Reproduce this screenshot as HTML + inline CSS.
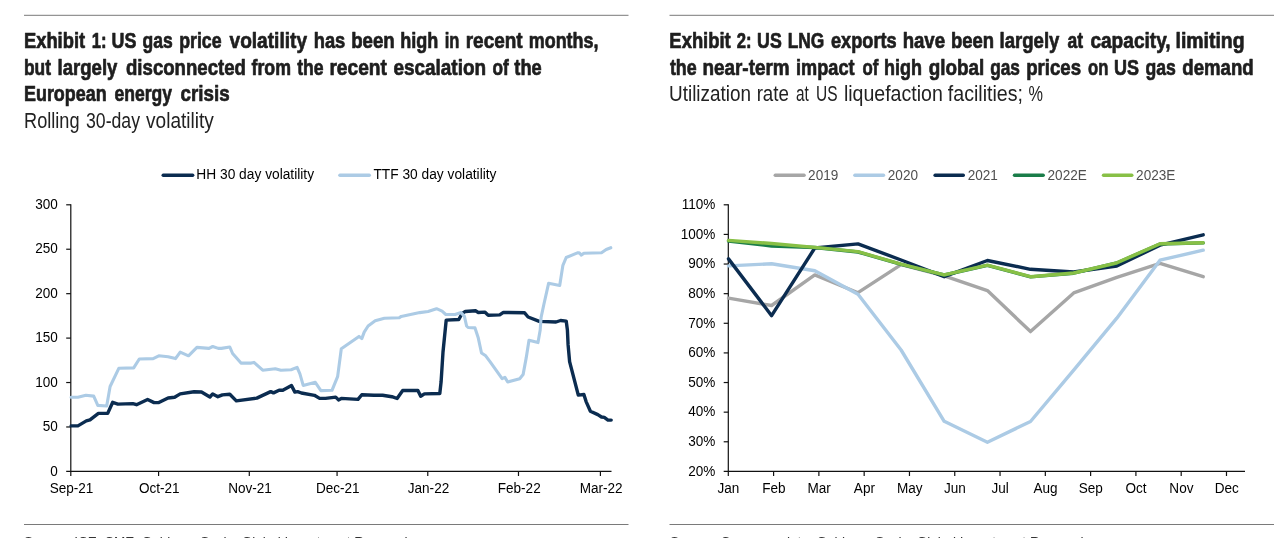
<!DOCTYPE html>
<html lang="en"><head><meta charset="utf-8"><title>Exhibits</title>
<style>
html,body{margin:0;padding:0;background:#fff;}
body{width:1280px;height:538px;overflow:hidden;}
svg{display:block;font-family:"Liberation Sans",sans-serif;}
.t{font-weight:bold;font-size:22px;fill:#1e1e1e;stroke:#1e1e1e;stroke-width:0.7px;stroke-linejoin:round;}
.s{font-size:21.5px;fill:#222;}
.a{font-size:14px;fill:#000;}
.lg{font-size:14px;fill:#000;}
.lg2{font-size:14px;fill:#505050;}
.src{font-size:13px;fill:#333;}
.ln{fill:none;stroke-width:3.4;stroke-linejoin:round;stroke-linecap:round;}
.ax{stroke:#111;stroke-width:1.2;fill:none;}
</style></head><body>
<svg width="1280" height="538" viewBox="0 0 1280 538">

<rect x="24" y="14.8" width="604.5" height="1" fill="#7a7a7a"/>
<rect x="669.5" y="14.8" width="604.5" height="1" fill="#7a7a7a"/>
<rect x="24" y="524" width="604.5" height="1" fill="#7a7a7a"/>
<rect x="669.5" y="524" width="604.5" height="1" fill="#7a7a7a"/>
<text class="t" y="47.5"><tspan x="23.97" textLength="61.17" lengthAdjust="spacingAndGlyphs">Exhibit</tspan> <tspan x="91.64" textLength="14.87" lengthAdjust="spacingAndGlyphs">1:</tspan> <tspan x="111.59" textLength="24.76" lengthAdjust="spacingAndGlyphs">US</tspan> <tspan x="142.60" textLength="30.19" lengthAdjust="spacingAndGlyphs">gas</tspan> <tspan x="179.19" textLength="42.40" lengthAdjust="spacingAndGlyphs">price</tspan> <tspan x="229.50" textLength="77.54" lengthAdjust="spacingAndGlyphs">volatility</tspan> <tspan x="313.77" textLength="31.53" lengthAdjust="spacingAndGlyphs">has</tspan> <tspan x="351.15" textLength="43.62" lengthAdjust="spacingAndGlyphs">been</tspan> <tspan x="400.28" textLength="38.08" lengthAdjust="spacingAndGlyphs">high</tspan> <tspan x="444.75" textLength="14.68" lengthAdjust="spacingAndGlyphs">in</tspan> <tspan x="465.74" textLength="56.88" lengthAdjust="spacingAndGlyphs">recent</tspan> <tspan x="528.79" textLength="69.72" lengthAdjust="spacingAndGlyphs">months,</tspan></text>
<text class="t" y="74.5"><tspan x="24.01" textLength="26.96" lengthAdjust="spacingAndGlyphs">but</tspan> <tspan x="57.56" textLength="59.90" lengthAdjust="spacingAndGlyphs">largely</tspan> <tspan x="126.00" textLength="119.92" lengthAdjust="spacingAndGlyphs">disconnected</tspan> <tspan x="251.50" textLength="39.45" lengthAdjust="spacingAndGlyphs">from</tspan> <tspan x="297.20" textLength="26.39" lengthAdjust="spacingAndGlyphs">the</tspan> <tspan x="329.43" textLength="57.48" lengthAdjust="spacingAndGlyphs">recent</tspan> <tspan x="393.40" textLength="92.68" lengthAdjust="spacingAndGlyphs">escalation</tspan> <tspan x="492.60" textLength="16.27" lengthAdjust="spacingAndGlyphs">of</tspan> <tspan x="514.30" textLength="27.40" lengthAdjust="spacingAndGlyphs">the</tspan></text>
<text class="t" y="101.4"><tspan x="23.99" textLength="82.67" lengthAdjust="spacingAndGlyphs">European</tspan> <tspan x="114.60" textLength="57.49" lengthAdjust="spacingAndGlyphs">energy</tspan> <tspan x="180.60" textLength="49.00" lengthAdjust="spacingAndGlyphs">crisis</tspan></text>
<text class="s" y="127.8"><tspan x="24.06" textLength="55.45" lengthAdjust="spacingAndGlyphs">Rolling</tspan> <tspan x="86.00" textLength="53.99" lengthAdjust="spacingAndGlyphs">30-day</tspan> <tspan x="146.10" textLength="67.78" lengthAdjust="spacingAndGlyphs">volatility</tspan></text>
<text class="t" y="47.5"><tspan x="669.36" textLength="61.37" lengthAdjust="spacingAndGlyphs">Exhibit</tspan> <tspan x="736.80" textLength="14.80" lengthAdjust="spacingAndGlyphs">2:</tspan> <tspan x="757.09" textLength="24.65" lengthAdjust="spacingAndGlyphs">US</tspan> <tspan x="787.71" textLength="36.67" lengthAdjust="spacingAndGlyphs">LNG</tspan> <tspan x="831.00" textLength="65.69" lengthAdjust="spacingAndGlyphs">exports</tspan> <tspan x="902.65" textLength="42.45" lengthAdjust="spacingAndGlyphs">have</tspan> <tspan x="950.96" textLength="43.11" lengthAdjust="spacingAndGlyphs">been</tspan> <tspan x="999.56" textLength="59.90" lengthAdjust="spacingAndGlyphs">largely</tspan> <tspan x="1067.60" textLength="15.56" lengthAdjust="spacingAndGlyphs">at</tspan> <tspan x="1090.40" textLength="80.26" lengthAdjust="spacingAndGlyphs">capacity,</tspan> <tspan x="1175.52" textLength="69.05" lengthAdjust="spacingAndGlyphs">limiting</tspan></text>
<text class="t" y="74.5"><tspan x="669.90" textLength="26.79" lengthAdjust="spacingAndGlyphs">the</tspan> <tspan x="702.44" textLength="87.14" lengthAdjust="spacingAndGlyphs">near-term</tspan> <tspan x="796.08" textLength="58.47" lengthAdjust="spacingAndGlyphs">impact</tspan> <tspan x="862.60" textLength="15.88" lengthAdjust="spacingAndGlyphs">of</tspan> <tspan x="883.98" textLength="37.98" lengthAdjust="spacingAndGlyphs">high</tspan> <tspan x="928.70" textLength="55.55" lengthAdjust="spacingAndGlyphs">global</tspan> <tspan x="990.20" textLength="29.78" lengthAdjust="spacingAndGlyphs">gas</tspan> <tspan x="1026.15" textLength="54.85" lengthAdjust="spacingAndGlyphs">prices</tspan> <tspan x="1088.00" textLength="20.33" lengthAdjust="spacingAndGlyphs">on</tspan> <tspan x="1114.08" textLength="24.97" lengthAdjust="spacingAndGlyphs">US</tspan> <tspan x="1145.40" textLength="30.39" lengthAdjust="spacingAndGlyphs">gas</tspan> <tspan x="1182.30" textLength="71.32" lengthAdjust="spacingAndGlyphs">demand</tspan></text>
<text class="s" y="100.7"><tspan x="669.02" textLength="82.02" lengthAdjust="spacingAndGlyphs">Utilization</tspan> <tspan x="756.63" textLength="32.31" lengthAdjust="spacingAndGlyphs">rate</tspan> <tspan x="796.00" textLength="12.78" lengthAdjust="spacingAndGlyphs">at</tspan> <tspan x="815.98" textLength="21.57" lengthAdjust="spacingAndGlyphs">US</tspan> <tspan x="843.89" textLength="98.88" lengthAdjust="spacingAndGlyphs">liquefaction</tspan> <tspan x="947.80" textLength="75.19" lengthAdjust="spacingAndGlyphs">facilities;</tspan> <tspan x="1028.60" textLength="14.49" lengthAdjust="spacingAndGlyphs">%</tspan></text>
<text class="src" x="24" y="545.6" textLength="388" lengthAdjust="spacingAndGlyphs">Source: ICE, CME, Goldman Sachs Global Investment Research</text>
<text class="src" x="670" y="545.6" textLength="418" lengthAdjust="spacingAndGlyphs">Source: Company data, Goldman Sachs Global Investment Research</text>
<line class="ln" x1="163.2" y1="175.2" x2="192.7" y2="175.2" stroke="#0b2c50"/>
<text class="lg" x="196.3" y="179.4" textLength="117.77" lengthAdjust="spacingAndGlyphs">HH 30 day volatility</text>
<line class="ln" x1="339.9" y1="175.2" x2="369.3" y2="175.2" stroke="#accbe5"/>
<text class="lg" x="373.4" y="179.4" textLength="123.11" lengthAdjust="spacingAndGlyphs">TTF 30 day volatility</text>
<path class="ax" d="M70.8 204.20000000000002V476.0M66.2 471.4H611.5"/>
<text class="a" x="57.8" y="475.6" textLength="7.54" lengthAdjust="spacingAndGlyphs" text-anchor="end">0</text>
<path class="ax" d="M66.2 426.97H70.8"/>
<text class="a" x="57.8" y="431.2" textLength="15.07" lengthAdjust="spacingAndGlyphs" text-anchor="end">50</text>
<path class="ax" d="M66.2 382.53H70.8"/>
<text class="a" x="57.8" y="386.7" textLength="22.61" lengthAdjust="spacingAndGlyphs" text-anchor="end">100</text>
<path class="ax" d="M66.2 338.10H70.8"/>
<text class="a" x="57.8" y="342.3" textLength="22.61" lengthAdjust="spacingAndGlyphs" text-anchor="end">150</text>
<path class="ax" d="M66.2 293.67H70.8"/>
<text class="a" x="57.8" y="297.9" textLength="22.61" lengthAdjust="spacingAndGlyphs" text-anchor="end">200</text>
<path class="ax" d="M66.2 249.23H70.8"/>
<text class="a" x="57.8" y="253.4" textLength="22.61" lengthAdjust="spacingAndGlyphs" text-anchor="end">250</text>
<path class="ax" d="M66.2 204.80H70.8"/>
<text class="a" x="57.8" y="209.0" textLength="22.61" lengthAdjust="spacingAndGlyphs" text-anchor="end">300</text>
<text class="a" x="71.5" y="492.8" textLength="43.69" lengthAdjust="spacingAndGlyphs" text-anchor="middle">Sep-21</text>
<path class="ax" d="M158.58 471.4V476.0"/>
<text class="a" x="159.3" y="492.8" textLength="40.66" lengthAdjust="spacingAndGlyphs" text-anchor="middle">Oct-21</text>
<path class="ax" d="M249.29 471.4V476.0"/>
<text class="a" x="250.0" y="492.8" textLength="43.68" lengthAdjust="spacingAndGlyphs" text-anchor="middle">Nov-21</text>
<path class="ax" d="M337.07 471.4V476.0"/>
<text class="a" x="337.8" y="492.8" textLength="43.68" lengthAdjust="spacingAndGlyphs" text-anchor="middle">Dec-21</text>
<path class="ax" d="M427.77 471.4V476.0"/>
<text class="a" x="428.5" y="492.8" textLength="41.43" lengthAdjust="spacingAndGlyphs" text-anchor="middle">Jan-22</text>
<path class="ax" d="M518.48 471.4V476.0"/>
<text class="a" x="519.2" y="492.8" textLength="42.93" lengthAdjust="spacingAndGlyphs" text-anchor="middle">Feb-22</text>
<path class="ax" d="M600.41 471.4V476.0"/>
<text class="a" x="601.1" y="492.8" textLength="42.92" lengthAdjust="spacingAndGlyphs" text-anchor="middle">Mar-22</text>
<polyline class="ln" stroke="#0b2c50" points="71.1,425.9 77.9,425.9 86.3,420.9 90.0,419.9 98.4,413.4 107.7,413.4 112.7,402.3 117.9,404.1 132.8,403.6 136.5,404.7 147.6,399.5 154.1,402.6 158.8,402.6 168.1,398.0 174.6,397.2 180.2,393.9 194.1,391.7 201.5,392.0 209.9,397.0 212.7,393.9 217.9,396.7 222.4,394.9 229.8,394.3 236.3,400.9 256.8,398.1 270.7,391.6 273.5,392.9 279.1,390.3 282.8,390.3 291.5,385.6 294.9,392.1 297.6,391.6 301.4,393.0 314.4,395.3 319.6,398.4 325.5,398.4 335.7,397.1 338.5,399.9 341.3,398.4 358.0,399.4 361.8,394.7 374.0,395.3 382.6,395.2 391.9,396.7 397.1,398.5 402.7,390.5 417.9,390.5 420.7,396.3 424.4,393.9 439.8,393.5 441.1,381.8 443.0,352.0 446.2,320.1 458.8,319.5 462.1,313.4 465.3,311.5 475.5,310.8 478.3,312.5 484.8,312.1 488.2,315.2 499.7,314.9 503.4,312.4 524.4,312.7 528.1,317.0 539.3,321.4 556.0,322.0 560.6,320.5 566.2,321.1 567.4,330.0 568.1,344.9 569.6,361.6 578.3,395.1 583.9,394.5 586.1,401.6 590.4,411.2 597.8,414.6 601.5,417.0 604.3,417.4 608.0,420.1 611.2,420.1"/>
<polyline class="ln" stroke="#accbe5" style="stroke-width:3.1" points="71.1,397.2 77.9,397.2 85.9,395.2 93.7,396.1 97.8,405.4 106.7,406.0 110.1,386.5 118.8,368.3 133.7,367.9 139.3,359.0 153.2,358.6 158.8,355.8 168.1,356.7 175.5,358.6 180.2,352.1 188.5,355.8 196.9,347.4 209.0,348.4 212.7,346.5 218.3,348.4 221.4,348.4 229.8,347.0 232.6,353.5 241.0,363.1 251.2,363.1 254.0,362.4 262.7,370.2 275.3,368.7 280.9,370.2 291.1,369.8 297.1,367.4 299.9,373.9 303.2,385.4 315.3,382.3 320.9,390.6 332.0,390.3 337.6,376.7 341.3,348.8 359.0,336.4 361.8,338.6 364.2,332.1 368.1,326.0 375.2,320.8 384.4,318.2 399.3,317.7 401.2,316.4 419.8,312.6 428.1,311.5 436.5,308.7 442.1,311.2 445.8,314.5 455.1,314.5 461.0,312.6 464.4,316.4 466.6,326.0 468.1,327.5 475.0,327.9 478.3,338.1 481.5,353.0 485.7,355.8 490.0,361.6 502.1,378.7 504.9,377.4 507.7,382.0 519.7,378.7 523.1,374.6 526.2,357.9 529.0,340.2 538.0,342.6 540.2,330.0 541.1,317.4 543.9,304.3 548.6,283.3 559.7,285.4 562.9,265.3 566.2,257.5 577.4,252.9 579.2,252.7 581.4,255.1 583.9,253.2 601.5,252.7 606.2,249.5 610.8,247.7"/>
<line class="ln" x1="775.25" y1="175.2" x2="804.1" y2="175.2" stroke="#a6a6a6"/>
<text class="lg2" x="808.1" y="180" textLength="30.25" lengthAdjust="spacingAndGlyphs">2019</text>
<line class="ln" x1="854.9" y1="175.2" x2="883.5" y2="175.2" stroke="#accbe5"/>
<text class="lg2" x="887.8" y="180" textLength="30.25" lengthAdjust="spacingAndGlyphs">2020</text>
<line class="ln" x1="935.1" y1="175.2" x2="963.3" y2="175.2" stroke="#0b2c50"/>
<text class="lg2" x="967.7" y="180" textLength="30.25" lengthAdjust="spacingAndGlyphs">2021</text>
<line class="ln" x1="1014.5" y1="175.2" x2="1043.2" y2="175.2" stroke="#1a7d49"/>
<text class="lg2" x="1047.5" y="180" textLength="39.33" lengthAdjust="spacingAndGlyphs">2022E</text>
<line class="ln" x1="1103.5" y1="175.2" x2="1131.8" y2="175.2" stroke="#88c046"/>
<text class="lg2" x="1136.1" y="180" textLength="39.33" lengthAdjust="spacingAndGlyphs">2023E</text>
<path class="ax" d="M728.3 204.20000000000002V476.0M723.6999999999999 471.4H1245"/>
<text class="a" x="715.4" y="475.6" textLength="27.12" lengthAdjust="spacingAndGlyphs" text-anchor="end">20%</text>
<path class="ax" d="M723.6999999999999 441.78H728.3"/>
<text class="a" x="715.4" y="446.0" textLength="27.12" lengthAdjust="spacingAndGlyphs" text-anchor="end">30%</text>
<path class="ax" d="M723.6999999999999 412.16H728.3"/>
<text class="a" x="715.4" y="416.4" textLength="27.12" lengthAdjust="spacingAndGlyphs" text-anchor="end">40%</text>
<path class="ax" d="M723.6999999999999 382.53H728.3"/>
<text class="a" x="715.4" y="386.7" textLength="27.12" lengthAdjust="spacingAndGlyphs" text-anchor="end">50%</text>
<path class="ax" d="M723.6999999999999 352.91H728.3"/>
<text class="a" x="715.4" y="357.1" textLength="27.12" lengthAdjust="spacingAndGlyphs" text-anchor="end">60%</text>
<path class="ax" d="M723.6999999999999 323.29H728.3"/>
<text class="a" x="715.4" y="327.5" textLength="27.12" lengthAdjust="spacingAndGlyphs" text-anchor="end">70%</text>
<path class="ax" d="M723.6999999999999 293.67H728.3"/>
<text class="a" x="715.4" y="297.9" textLength="27.12" lengthAdjust="spacingAndGlyphs" text-anchor="end">80%</text>
<path class="ax" d="M723.6999999999999 264.04H728.3"/>
<text class="a" x="715.4" y="268.2" textLength="27.12" lengthAdjust="spacingAndGlyphs" text-anchor="end">90%</text>
<path class="ax" d="M723.6999999999999 234.42H728.3"/>
<text class="a" x="715.4" y="238.6" textLength="34.66" lengthAdjust="spacingAndGlyphs" text-anchor="end">100%</text>
<path class="ax" d="M723.6999999999999 204.80H728.3"/>
<text class="a" x="715.4" y="209.0" textLength="33.65" lengthAdjust="spacingAndGlyphs" text-anchor="end">110%</text>
<text class="a" x="728.5" y="492.8" textLength="21.85" lengthAdjust="spacingAndGlyphs" text-anchor="middle">Jan</text>
<path class="ax" d="M773.59 471.4V476.0"/>
<text class="a" x="773.8" y="492.8" textLength="23.35" lengthAdjust="spacingAndGlyphs" text-anchor="middle">Feb</text>
<path class="ax" d="M818.88 471.4V476.0"/>
<text class="a" x="819.1" y="492.8" textLength="23.34" lengthAdjust="spacingAndGlyphs" text-anchor="middle">Mar</text>
<path class="ax" d="M864.17 471.4V476.0"/>
<text class="a" x="864.4" y="492.8" textLength="21.09" lengthAdjust="spacingAndGlyphs" text-anchor="middle">Apr</text>
<path class="ax" d="M909.46 471.4V476.0"/>
<text class="a" x="909.7" y="492.8" textLength="25.6" lengthAdjust="spacingAndGlyphs" text-anchor="middle">May</text>
<path class="ax" d="M954.75 471.4V476.0"/>
<text class="a" x="955.0" y="492.8" textLength="21.85" lengthAdjust="spacingAndGlyphs" text-anchor="middle">Jun</text>
<path class="ax" d="M1000.04 471.4V476.0"/>
<text class="a" x="1000.2" y="492.8" textLength="17.32" lengthAdjust="spacingAndGlyphs" text-anchor="middle">Jul</text>
<path class="ax" d="M1045.33 471.4V476.0"/>
<text class="a" x="1045.5" y="492.8" textLength="24.11" lengthAdjust="spacingAndGlyphs" text-anchor="middle">Aug</text>
<path class="ax" d="M1090.62 471.4V476.0"/>
<text class="a" x="1090.8" y="492.8" textLength="24.11" lengthAdjust="spacingAndGlyphs" text-anchor="middle">Sep</text>
<path class="ax" d="M1135.91 471.4V476.0"/>
<text class="a" x="1136.1" y="492.8" textLength="21.08" lengthAdjust="spacingAndGlyphs" text-anchor="middle">Oct</text>
<path class="ax" d="M1181.20 471.4V476.0"/>
<text class="a" x="1181.4" y="492.8" textLength="24.1" lengthAdjust="spacingAndGlyphs" text-anchor="middle">Nov</text>
<path class="ax" d="M1226.49 471.4V476.0"/>
<text class="a" x="1226.7" y="492.8" textLength="24.1" lengthAdjust="spacingAndGlyphs" text-anchor="middle">Dec</text>
<polyline class="ln" stroke="#a6a6a6" points="728.5,298.1 771.6,305.5 814.8,274.9 858.0,292.7 901.1,264.6 944.2,275.8 987.4,290.6 1030.5,331.6 1073.7,292.9 1116.8,277.3 1160.0,263.4 1203.2,276.7"/>
<polyline class="ln" stroke="#accbe5" points="728.5,265.9 771.6,263.7 814.8,270.7 858.0,294.3 901.1,350.0 944.2,421.3 987.4,442.2 1030.5,421.5 1073.7,370.2 1116.8,318.2 1160.0,260.2 1203.2,250.2"/>
<polyline class="ln" stroke="#0b2c50" points="728.5,258.9 771.6,315.7 814.8,248.0 858.0,243.9 901.1,260.0 944.2,276.7 987.4,260.5 1030.5,269.3 1073.7,272.0 1116.8,266.0 1160.0,245.2 1203.2,234.8"/>
<polyline class="ln" stroke="#1a7d49" points="728.5,241.0 771.6,246.0 814.8,247.5 858.0,252.0 901.1,264.4 944.2,275.0 987.4,265.4 1030.5,276.9 1073.7,273.2 1116.8,263.0 1160.0,244.0 1203.2,242.9"/>
<polyline class="ln" stroke="#88c046" points="728.5,240.4 771.6,243.5 814.8,247.4 858.0,251.6 901.1,264.2 944.2,274.8 987.4,265.2 1030.5,276.7 1073.7,273.0 1116.8,262.8 1160.0,243.7 1203.2,242.8"/>
</svg></body></html>
